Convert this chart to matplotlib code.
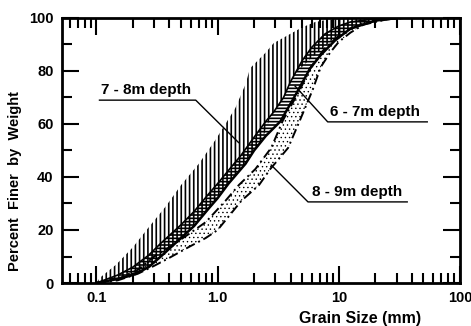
import numpy as np
import matplotlib
matplotlib.use("Agg")
import matplotlib.pyplot as plt
from matplotlib.ticker import FixedLocator, FixedFormatter, LogLocator, NullFormatter, MultipleLocator

plt.rcParams['font.family'] = ['Liberation Sans', 'DejaVu Sans']
plt.rcParams['font.weight'] = 'bold'
plt.rcParams['hatch.linewidth'] = 1.2

# ---- data (grain size in mm, percent finer) ----
d78_up = [0.1, 0.107, 0.146, 0.2, 0.27, 0.375, 0.5, 0.7, 0.96, 1.16, 1.4, 1.7, 1.85, 2.5, 2.9, 3.8, 5.0, 6.4, 8.0, 12, 20]
p78_up = [0, 2, 7, 13.5, 21, 29, 37, 45, 54, 60, 66, 75, 81, 87, 90.5, 93.5, 96.5, 98.5, 99.3, 99.8, 100]
d78_lo = [0.1, 0.15, 0.2, 0.27, 0.34, 0.5, 0.64, 0.84, 1.0, 1.23, 1.7, 2.0, 2.3, 2.7, 2.9, 3.5, 4.0, 4.6, 5.5, 7.1, 9.3, 12.5, 20, 30]
p78_lo = [0, 1.5, 3, 6, 10, 17, 21.5, 28, 32, 37.5, 45, 50, 53.5, 62, 64.5, 70, 76, 80, 83.5, 88, 92.5, 96, 99, 100]

d67_up = [0.1, 0.15, 0.2, 0.27, 0.34, 0.5, 0.64, 0.84, 1.0, 1.23, 1.55, 2.0, 2.5, 2.9, 3.5, 4.0, 5.0, 6.0, 7.7, 10, 12.5, 20, 30]
p67_up = [0, 3, 6, 10.5, 15, 22, 27, 33.5, 37.5, 42.5, 48, 55, 61, 64.5, 70, 76, 84, 89, 94, 97, 98.5, 99.7, 100]
d67_lo = [0.1, 0.15, 0.2, 0.27, 0.34, 0.5, 0.64, 0.84, 1.0, 1.23, 1.7, 2.0, 2.5, 3.3, 4.4, 5.8, 7.1, 9.3, 12.5, 20, 30]
p67_lo = [0, 1.5, 3, 6, 10, 17, 21.5, 28, 32, 37.5, 45, 50, 55.5, 61, 71, 81, 86, 91.5, 96, 99, 100]

d89_up = [0.1, 0.15, 0.22, 0.3, 0.4, 0.58, 0.8, 1.16, 1.5, 2.05, 2.77, 3.47, 4.79, 5.9, 7.5, 9.5, 12, 16, 25, 35]
p89_up = [0, 1.5, 5, 10, 13.5, 18.5, 23, 31, 37, 43, 51, 61.5, 73, 81.5, 88, 92.5, 95.5, 98, 99.5, 100]
d89_lo = [0.1, 0.15, 0.22, 0.3, 0.4, 0.58, 0.8, 1.0, 1.57, 2.2, 2.72, 3.82, 4.79, 6.1, 7.1, 8.5, 10, 12.5, 16, 25, 35]
p89_lo = [0, 1, 3.5, 6.5, 9.5, 13.6, 17, 20, 31, 37, 43, 51, 61.5, 73, 81.5, 87, 91, 94.5, 97.5, 99.5, 100]

x_ticks = [0.1, 1.0, 10, 100]
x_ticklabels = ['0.1', '1.0', '10', '100']
y_ticks = [0, 20, 40, 60, 80, 100]
y_ticklabels = ['0', '20', '40', '60', '80', '100']

labels = ['7 - 8m depth', '6 - 7m depth', '8 - 9m depth']

fig = plt.figure(figsize=(4.71, 3.26), dpi=100)
ax = fig.add_axes([0.1316, 0.1319, 0.8450, 0.8129])

# 7-8m band: vertical hatching
ax.fill(np.concatenate([d78_up, d78_lo[::-1]]), np.concatenate([p78_up, p78_lo[::-1]]),
        facecolor='none', edgecolor='black', hatch='||||', linewidth=0)
# 6-7m band: horizontal hatching
ax.fill(np.concatenate([d67_up, d67_lo[::-1]]), np.concatenate([p67_up, p67_lo[::-1]]),
        facecolor='none', edgecolor='black', hatch='-----', linewidth=0)
ax.plot(d67_up, p67_up, color='black', lw=1.2)
ax.plot(d67_lo, p67_lo, color='black', lw=1.8)
# 8-9m band: dotted
with plt.rc_context({'hatch.linewidth': 0.5}):
    ax.fill(np.concatenate([d89_up, d89_lo[::-1]]), np.concatenate([p89_up, p89_lo[::-1]]),
            facecolor='none', edgecolor='black', hatch='....', linewidth=0)
ax.plot(d89_up, p89_up, color='black', lw=1.4, ls=(0, (5, 2, 1, 2)))
ax.plot(d89_lo, p89_lo, color='black', lw=1.4, ls=(0, (5, 2, 1, 2)))

# annotations with underlines and leaders
ax.plot([0.106, 0.66, 1.49], [69, 69, 53], color='black', lw=1.0)
ax.text(0.255, 70.0, labels[0], ha='center', va='bottom', fontsize=11, fontweight='bold')
ax.plot([4.36, 8.1, 53.7], [74.3, 60.8, 60.8], color='black', lw=1.0)
ax.text(20.0, 61.8, labels[1], ha='center', va='bottom', fontsize=11, fontweight='bold')
ax.plot([2.77, 5.57, 36.7], [44.5, 30.6, 30.6], color='black', lw=1.0)
ax.text(14.3, 31.6, labels[2], ha='center', va='bottom', fontsize=11, fontweight='bold')

ax.set_xscale('log')
ax.set_xlim(0.052, 100)
ax.set_ylim(0, 100)

ax.xaxis.set_major_locator(FixedLocator(x_ticks))
ax.xaxis.set_major_formatter(FixedFormatter(x_ticklabels))
ax.xaxis.set_minor_locator(LogLocator(base=10, subs=np.arange(2, 10)))
ax.xaxis.set_minor_formatter(NullFormatter())
ax.yaxis.set_major_locator(FixedLocator(y_ticks))
ax.yaxis.set_major_formatter(FixedFormatter(y_ticklabels))
ax.yaxis.set_minor_locator(MultipleLocator(10))

ax.tick_params(which='both', direction='in', top=True, right=True, width=1.5,
               labelsize=10.5, pad=6)
ax.tick_params(which='major', length=12)
ax.tick_params(which='minor', length=7)
for lab in ax.get_xticklabels() + ax.get_yticklabels():
    lab.set_fontweight('bold')
for sp in ax.spines.values():
    sp.set_linewidth(2)

fig.text(0.032, 0.445, 'Percent  Finer  by  Weight', rotation=90, ha='center', va='center',
         fontsize=10.5, fontweight='bold')
fig.text(0.765, 0.022, 'Grain Size (mm)', ha='center', va='center', fontsize=11.5, fontweight='bold')

fig.savefig('out.png', dpi=100)
